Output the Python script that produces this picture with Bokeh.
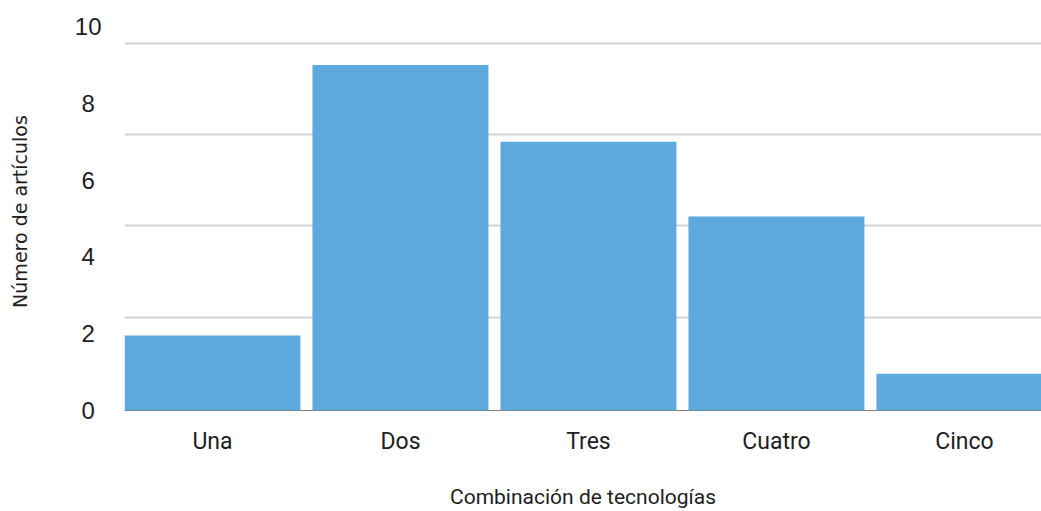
from bokeh.plotting import figure
from bokeh.models import Range1d, FixedTicker, Span
from bokeh.embed import file_html
from bokeh.resources import INLINE

categories = ["Una", "Dos", "Tres", "Cuatro", "Cinco"]
counts = [1.95, 9.0, 7.0, 5.05, 0.96]
y_ticks = [0, 2, 4, 6, 8, 10]
x_title = "Combinación de tecnologías"
y_title = "Número de artículos"

xs = list(range(len(categories)))
x_start, x_end = -0.468, 4.410

p = figure(width=1041, height=511, output_backend="svg", toolbar_location=None,
           x_range=Range1d(x_start, x_end), y_range=Range1d(0, 10.365),
           min_border_left=124, min_border_right=0, min_border_top=12, min_border_bottom=101)
p.outline_line_color = None
p.background_fill_color = "white"
p.border_fill_color = "white"

p.vbar(x=xs, top=counts, bottom=-0.04, width=0.936, fill_color="#5da8dc", line_color=None)

base = Span(location=0, dimension="width", line_color="#000000", line_width=1.2, level="underlay")
p.add_layout(base)

# x axis
p.xaxis.ticker = FixedTicker(ticks=xs)
p.xaxis.major_label_overrides = {i: c for i, c in zip(xs, categories)}
p.xaxis.axis_line_color = None
p.xaxis.major_tick_line_color = None
p.xaxis.minor_tick_line_color = None
p.xaxis.major_label_standoff = 11
p.xaxis.major_label_text_font = "Roboto"
p.xaxis.major_label_text_font_size = "23px"
p.xaxis.major_label_text_color = "#1e1e1e"
p.xaxis.axis_label = x_title
p.xaxis.axis_label_text_font = "Roboto"
p.xaxis.axis_label_text_font_size = "21px"
p.xaxis.axis_label_text_font_style = "normal"
p.xaxis.axis_label_text_color = "#1e1e1e"
p.xaxis.axis_label_standoff = 27

# y axis; single-digit labels padded by half a digit so they sit centred like the reference
p.yaxis.ticker = FixedTicker(ticks=y_ticks)
p.yaxis.major_label_overrides = {v: (str(v) if v >= 10 else str(v) + "\u00a0") for v in y_ticks}
p.yaxis.axis_line_color = None
p.yaxis.major_tick_line_color = None
p.yaxis.minor_tick_line_color = None
p.yaxis.major_label_standoff = 17
p.yaxis.major_label_text_font = "Liberation Sans"
p.yaxis.major_label_text_font_size = "24px"
p.yaxis.major_label_text_color = "#1e1e1e"
p.yaxis.axis_label = y_title
p.yaxis.axis_label_text_font = "DejaVu Sans"
p.yaxis.axis_label_text_font_size = "19px"
p.yaxis.axis_label_text_font_style = "normal"
p.yaxis.axis_label_text_color = "#1e1e1e"
p.yaxis.axis_label_standoff = 41

p.xgrid.grid_line_color = None
p.ygrid.ticker = FixedTicker(ticks=[2.42, 4.82, 7.19, 9.56])
p.ygrid.grid_line_color = "#d3d3d3"
p.ygrid.grid_line_width = 2

open("out.html", "w").write(file_html(p, INLINE))
